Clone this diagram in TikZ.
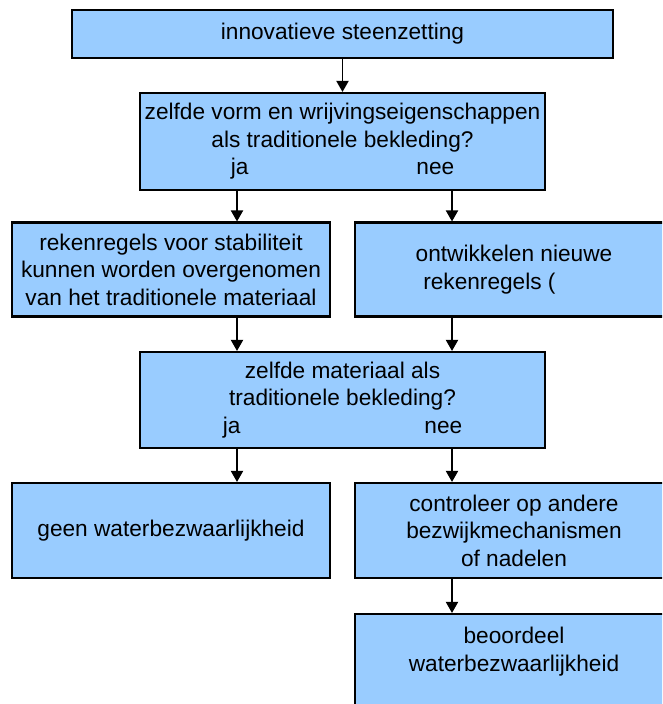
\documentclass[tikz,border=0pt]{standalone}
\usepackage{fontspec}
\setmainfont{Liberation Sans}
\usetikzlibrary{arrows.meta}
\definecolor{boxblue}{HTML}{99CCFF}
\begin{document}
\begin{tikzpicture}[
    box/.style={draw, line width=1.2pt, fill=boxblue, align=center, inner sep=0pt,
      minimum width=6.36cm, minimum height=1.9cm,
      font=\fontsize{12.9}{15.6}\selectfont},
    arr/.style={-{Triangle[width=0.24cm,length=0.22cm]}, line width=1.1pt}]
  \useasboundingbox (0,0) rectangle (13.24,-14.08);
  \clip (0,0) rectangle (13.24,-14.08);
  \coordinate (ja) at (4.74,0);
  \coordinate (nee) at (9.04,0);
  % vragen in het midden
  \node[box, line width=1.6pt, minimum width=10.82cm, minimum height=0.96cm] (steen) at (6.85,-0.68) {innovatieve steenzetting};
  \node[box, minimum width=8.1cm, minimum height=1.94cm] (vorm) at (6.85,-2.83)
    {zelfde vorm en wrijvingseigenschappen\\als traditionele bekleding?\\ja\hspace{3.36cm}nee};
  \node[box, minimum width=8.1cm, minimum height=1.92cm] (mat) at (6.85,-8.0)
    {zelfde materiaal als\\traditionele bekleding?\\ja\hspace{3.68cm}nee};
  % antwoorden
  \node[box, minimum height=1.88cm] (oud) at (3.42,-5.39)
    {rekenregels voor stabiliteit\\kunnen worden overgenomen\\van het traditionele materiaal};
  \node[box, minimum height=1.88cm] (nieuw) at (10.28,-5.39)
    {ontwikkelen nieuwe\\rekenregels (\hphantom{abcd}};
  \node[box] (geen) at (3.42,-10.61) {geen waterbezwaarlijkheid};
  \node[box] (contr) at (10.28,-10.61)
    {controleer op andere\\bezwijkmechanismen\\of nadelen};
  \node[box, minimum height=1.96cm] (beoord) at (10.28,-13.26)
    {beoordeel\\waterbezwaarlijkheid\\~};
  % pijlen
  \draw[arr] (steen) -- (vorm);
  \draw[arr] (vorm.south -| ja) -- (oud.north -| ja);
  \draw[arr] (vorm.south -| nee) -- (nieuw.north -| nee);
  \draw[arr] (oud.south -| ja) -- (mat.north -| ja);
  \draw[arr] (nieuw.south -| nee) -- (mat.north -| nee);
  \draw[arr] (mat.south -| ja) -- (geen.north -| ja);
  \draw[arr] (mat.south -| nee) -- (contr.north -| nee);
  \draw[arr] (contr.south -| nee) -- (beoord.north -| nee);
\end{tikzpicture}
\end{document}
